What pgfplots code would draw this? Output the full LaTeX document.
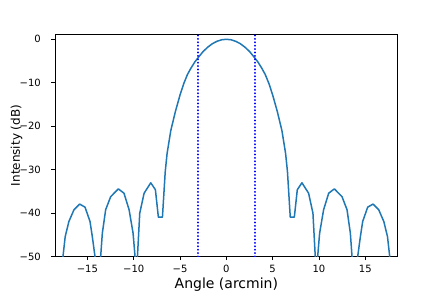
\documentclass[border=0pt]{standalone}
\usepackage{pgfplots}
\pgfplotsset{compat=1.18}
\usepackage{fontspec}
\setmainfont{DejaVu Sans}
\definecolor{mplblue}{HTML}{1F77B4}
\definecolor{pureblue}{HTML}{0000FF}
\pgfplotstableread{
x y
-17.90 -55.0
-17.40 -45.4
-17.00 -41.9
-16.45 -39.2
-15.84 -37.9
-15.26 -38.6
-14.72 -41.9
-14.47 -45.4
-13.78 -56.3
-13.39 -44.6
-13.03 -39.2
-12.49 -36.2
-11.66 -34.4
-11.05 -35.4
-10.50 -39.2
-10.07 -44.6
-9.70 -54.0
-9.35 -40.0
-8.88 -35.4
-8.16 -33.0
-7.66 -34.6
-7.34 -40.9
-6.90 -40.9
-6.60 -30.5
-6.40 -26.3
-6.00 -21.0
-5.50 -16.6
-5.00 -12.8
-4.60 -10.2
-4.20 -8.1
-3.84 -6.7
-3.40 -5.2
-3.00 -4.1
-2.50 -2.8
-2.00 -1.8
-1.50 -1.0
-1.00 -0.45
-0.50 -0.11
0.00 0.0
0.50 -0.11
1.00 -0.45
1.50 -1.0
2.00 -1.8
2.50 -2.8
3.00 -4.1
3.40 -5.2
3.84 -6.7
4.20 -8.1
4.60 -10.2
5.00 -12.8
5.50 -16.6
6.00 -21.0
6.40 -26.3
6.60 -30.5
6.90 -40.9
7.34 -40.9
7.66 -34.6
8.16 -33.0
8.88 -35.4
9.35 -40.0
9.70 -54.0
10.07 -44.6
10.50 -39.2
11.05 -35.4
11.66 -34.4
12.49 -36.2
13.03 -39.2
13.39 -44.6
13.78 -56.3
14.47 -45.4
14.72 -41.9
15.26 -38.6
15.84 -37.9
16.45 -39.2
17.00 -41.9
17.40 -45.4
17.90 -55.0
}\pattern
\begin{document}
\begin{tikzpicture}[x=1pt,y=1pt]
\useasboundingbox (-55,-37.3) rectangle (387,256.7);
\begin{axis}[
  at={(0,0)}, anchor=south west,
  width=342.7pt, height=222.4pt, scale only axis,
  xmin=-18.5, xmax=18.5, ymin=-50, ymax=1.15,
  xtick={-15,-10,-5,0,5,10,15},
  xticklabels={−15,−10,−5,0,5,10,15},
  ytick={-50,-40,-30,-20,-10,0},
  yticklabels={−50,−40,−30,−20,−10,0},
  tick pos=left,
  tick align=outside,
  major tick length=3.5pt,
  every tick/.style={black, line width=0.8pt},
  axis line style={black, line width=0.8pt},
  tick label style={font=\fontsize{10}{12}\selectfont},
  xticklabel style={inner sep=0pt, anchor=north, yshift=-5pt},
  yticklabel style={inner sep=0pt, anchor=east, xshift=-10.5pt},
  xlabel={Angle (arcmin)},
  ylabel={Intensity (dB)},
  xlabel style={font=\fontsize{14}{16}\selectfont, inner sep=0pt, at={(axis description cs:0.5,-0.095)}, anchor=north},
  ylabel style={font=\fontsize{12}{14}\selectfont, inner sep=0pt, at={(axis description cs:-0.1123,0.5)}, anchor=center},
]
\addplot[draw=mplblue, line width=1.5pt, line join=round] table[x=x,y=y] {\pattern};
\addplot[draw=pureblue, line width=1.6pt, line cap=round, dash pattern=on 0.4pt off 3pt] coordinates {(-3.08,-50) (-3.08,1.15)};
\addplot[draw=pureblue, line width=1.6pt, line cap=round, dash pattern=on 0.4pt off 3pt] coordinates {(3.1,-50) (3.1,1.15)};
\end{axis}
\end{tikzpicture}
\end{document}
